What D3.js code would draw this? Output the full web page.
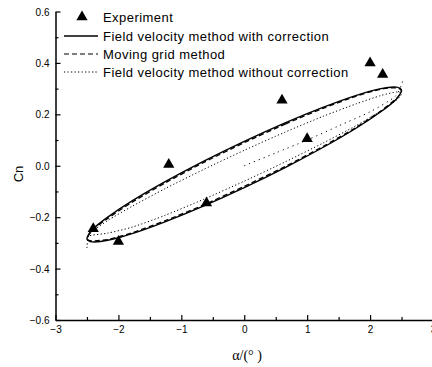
<!DOCTYPE html>
<html>
<head>
<meta charset="utf-8">
<script src="https://cdn.jsdelivr.net/npm/d3@7"></script>
<style>
  body { margin: 0; background: #fff; }
  text { font-family: "Liberation Sans", Arial, sans-serif; fill: #000; }
</style>
</head>
<body>
<svg id="target"></svg>
<script>
// Values: [alpha, Cn]
let experiment = [
    [-2.4, -0.245], [-2.0, -0.295], [-1.2, 0.005], [-0.6, -0.145],
    [0.6, 0.255], [1.0, 0.105], [2.0, 0.40], [2.2, 0.355]
];

// field velocity method with correction (closed loop)
let withCorrection = [
    [0, 0.095], [0.65, 0.167], [1.25, 0.227], [1.77, 0.273], [2.17, 0.30],
    [2.42, 0.306], [2.5, 0.293], [2.42, 0.26], [2.17, 0.21], [1.77, 0.145],
    [1.25, 0.071], [0.65, -0.007], [0, -0.085], [-0.65, -0.157], [-1.25, -0.217],
    [-1.77, -0.263], [-2.17, -0.29], [-2.42, -0.296], [-2.5, -0.283], [-2.42, -0.25],
    [-2.17, -0.20], [-1.77, -0.135], [-1.25, -0.061], [-0.65, 0.017]
];

// moving grid method (closed loop)
let movingGrid = [
    [0, 0.09], [0.65, 0.162], [1.25, 0.223], [1.77, 0.27], [2.17, 0.298],
    [2.42, 0.303], [2.5, 0.29], [2.42, 0.262], [2.17, 0.213], [1.77, 0.148],
    [1.25, 0.075], [0.65, -0.003], [0, -0.08], [-0.65, -0.153], [-1.25, -0.213],
    [-1.77, -0.26], [-2.17, -0.287], [-2.42, -0.292], [-2.5, -0.285], [-2.42, -0.252],
    [-2.17, -0.205], [-1.77, -0.14], [-1.25, -0.066], [-0.65, 0.012]
];

// field velocity method without correction (loop + start-up line)
let withoutLoop = [
    [-2.5, -0.32], [-2.48, -0.275], [-2.42, -0.256], [-2.17, -0.213], [-1.77, -0.156],
    [-1.25, -0.088], [-0.65, -0.015], [0, 0.06], [0.65, 0.131], [1.25, 0.192],
    [1.77, 0.240], [2.17, 0.273], [2.42, 0.287], [2.5, 0.28], [2.42, 0.255],
    [2.17, 0.213], [1.77, 0.155], [1.25, 0.088], [0.65, 0.015], [0, -0.06],
    [-0.65, -0.131], [-1.25, -0.192], [-1.77, -0.238], [-2.17, -0.262], [-2.42, -0.27],
    [-2.48, -0.275]
];
let withoutStart = [
    [0, 0], [0.5, 0.05], [1.0, 0.1], [1.5, 0.155], [2.0, 0.21], [2.4, 0.27], [2.52, 0.33]
];

let legendLabels = [
    "Experiment",
    "Field velocity method with correction",
    "Moving grid method",
    "Field velocity method without correction"
];

let xTicks = [-3, -2, -1, 0, 1, 2, 3];
let yTicks = [-0.6, -0.4, -0.2, 0.0, 0.2, 0.4, 0.6];

let W = 432, H = 367;
let svg = d3.select("#target").attr("width", W).attr("height", H);

let x = d3.scaleLinear().domain([-3, 3]).range([55.5, 433]);
let y = d3.scaleLinear().domain([-0.6, 0.6]).range([320, 11.5]);

// Axes: ticks pointing inward, minor ticks at half steps
let xAxis = svg.append("g").attr("transform", "translate(0," + y(-0.6) + ")");
xAxis.call(d3.axisBottom(x).tickValues(d3.range(-3, 3.01, 0.5)).tickSize(0).tickFormat(""));
xAxis.selectAll(".tick line").attr("y2", (d, i) => i % 2 ? -3 : -5).attr("stroke-width", 1.2);
xAxis.select(".domain").attr("stroke-width", 1.5);
xAxis.selectAll(".tick").filter(d => xTicks.some(t => Math.abs(t - d) < 1e-6))
    .append("text").attr("y", 12.5).attr("text-anchor", "middle")
    .style("font-size", "10px").text(d => d3.format("d")(Math.round(d)));

let yAxis = svg.append("g").attr("transform", "translate(" + x(-3) + ",0)");
yAxis.call(d3.axisLeft(y).tickValues(d3.range(-6, 7, 1).map(v => v / 10)).tickSize(0).tickFormat(""));
yAxis.selectAll(".tick line").attr("x2", (d, i) => i % 2 ? 3 : 5).attr("stroke-width", 1.2);
yAxis.select(".domain").attr("stroke-width", 1.5);
yAxis.selectAll(".tick").filter(d => yTicks.some(t => Math.abs(t - d) < 1e-6))
    .append("text").attr("x", -6).attr("dy", "0.35em").attr("text-anchor", "end")
    .style("font-size", "10px").text(d => d3.format(".1f")(d));

// Axis titles
svg.append("text")
    .attr("transform", "translate(23,174) rotate(-90)")
    .attr("text-anchor", "middle")
    .style("font-size", "13px")
    .text("Cn");
svg.append("text")
    .attr("x", 247).attr("y", 360)
    .attr("text-anchor", "middle")
    .style("font-family", "'Liberation Serif', 'Times New Roman', serif")
    .style("font-size", "14px")
    .text("α/(°  )");

// Curves
let line = d3.line().x(d => x(d[0])).y(d => y(d[1]));

svg.append("path").datum(withCorrection)
    .attr("d", line.curve(d3.curveCardinalClosed.tension(0.3)))
    .attr("fill", "none").attr("stroke", "#000").attr("stroke-width", 1.4);

svg.append("path").datum(movingGrid)
    .attr("d", line.curve(d3.curveCardinalClosed.tension(0.3)))
    .attr("fill", "none").attr("stroke", "#000").attr("stroke-width", 1.3)
    .attr("stroke-dasharray", "5,3");

svg.append("path").datum(withoutLoop)
    .attr("d", line.curve(d3.curveCardinal.tension(0.3)))
    .attr("fill", "none").attr("stroke", "#000").attr("stroke-width", 1)
    .attr("stroke-dasharray", "1.2,2.3");

svg.append("path").datum(withoutStart)
    .attr("d", line.curve(d3.curveCardinal.tension(0.3)))
    .attr("fill", "none").attr("stroke", "#000").attr("stroke-width", 1)
    .attr("stroke-dasharray", "1.2,4");

// Experiment points
let tri = d3.symbol().type(d3.symbolTriangle).size(55);
svg.append("g").selectAll("path")
    .data(experiment)
    .enter()
    .append("path")
    .attr("d", tri)
    .attr("transform", d => "translate(" + x(d[0]) + "," + y(d[1]) + ")")
    .attr("fill", "#000");

// Legend
let legend = svg.append("g");
let rowY = [17, 36, 54, 72];
legend.append("path").attr("d", tri)
    .attr("transform", "translate(82," + rowY[0] + ")").attr("fill", "#000");
let styles = [null, "none", "5,3", "1.2,2.3"];
for (let i = 1; i < 4; i++) {
    legend.append("line")
        .attr("x1", 64).attr("x2", 98).attr("y1", rowY[i]).attr("y2", rowY[i])
        .attr("stroke", "#000").attr("stroke-width", i === 1 ? 1.4 : 1.2)
        .attr("stroke-dasharray", styles[i]);
}
legendLabels.forEach((t, i) => {
    legend.append("text")
        .attr("x", 103).attr("y", rowY[i]).attr("dy", "0.35em")
        .style("font-size", "13px").style("letter-spacing", "0.45px").text(t);
});
</script>
</body>
</html>
